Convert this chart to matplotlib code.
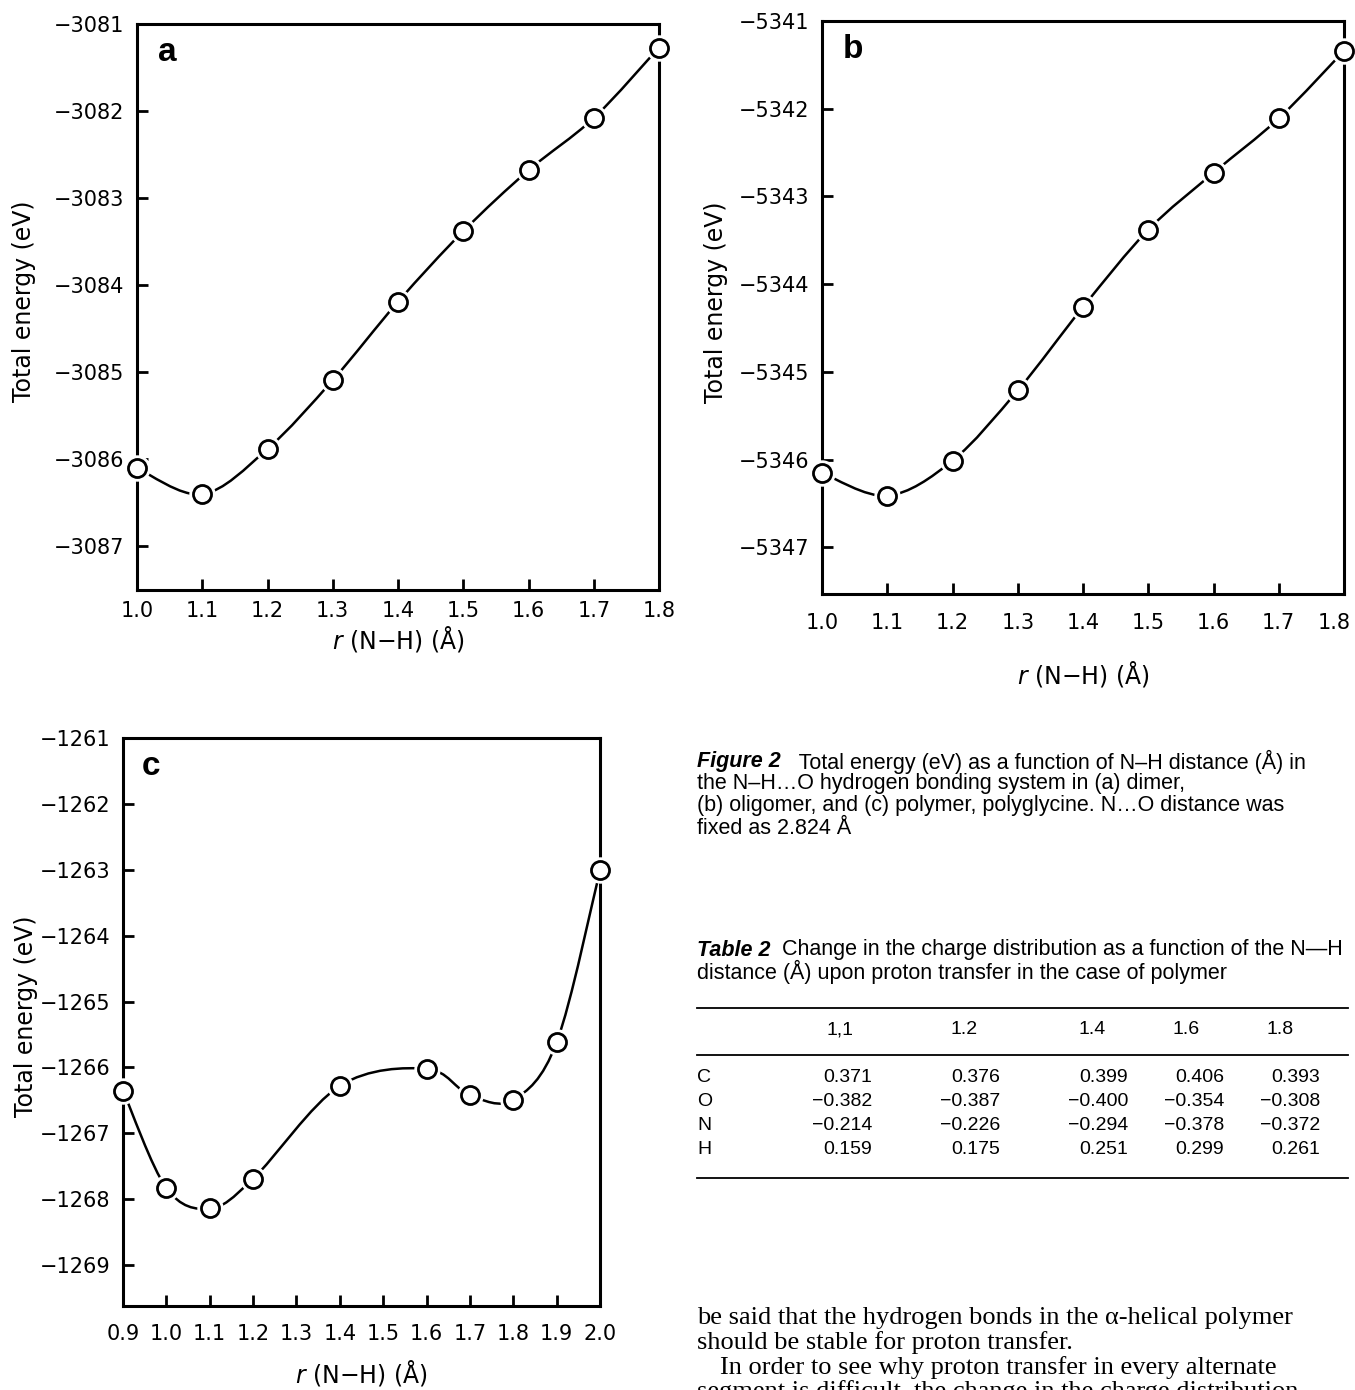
import numpy as np
import matplotlib
matplotlib.use("Agg")
import matplotlib.pyplot as plt
import matplotlib.transforms as mtransforms
from matplotlib.path import Path
from matplotlib.patches import PathPatch

# panel a: dimer
r_a = [1.0, 1.1, 1.2, 1.3, 1.4, 1.5, 1.6, 1.7, 1.8]
e_a = [-3086.10, -3086.40, -3085.88, -3085.09, -3084.19, -3083.38, -3082.68, -3082.08, -3081.27]
# panel b: oligomer
r_b = [1.0, 1.1, 1.2, 1.3, 1.4, 1.5, 1.6, 1.7, 1.8]
e_b = [-5346.15, -5346.41, -5346.01, -5345.21, -5344.26, -5343.38, -5342.73, -5342.11, -5341.34]
# panel c: polymer
r_c = [0.9, 1.0, 1.1, 1.2, 1.4, 1.6, 1.7, 1.8, 1.9, 2.0]
e_c = [-1266.35, -1267.83, -1268.14, -1267.69, -1266.28, -1266.02, -1266.42, -1266.49, -1265.62, -1263.01]

xticks_ab = [1.0, 1.1, 1.2, 1.3, 1.4, 1.5, 1.6, 1.7, 1.8]
xticks_c = [0.9, 1.0, 1.1, 1.2, 1.3, 1.4, 1.5, 1.6, 1.7, 1.8, 1.9, 2.0]
xlabels_ab = ["1.0", "1.1", "1.2", "1.3", "1.4", "1.5", "1.6", "1.7", "1.8"]
xlabels_c = ["0.9", "1.0", "1.1", "1.2", "1.3", "1.4", "1.5", "1.6", "1.7", "1.8", "1.9", "2.0"]
yticks_a = [-3087, -3086, -3085, -3084, -3083, -3082, -3081]
yticks_b = [-5347, -5346, -5345, -5344, -5343, -5342, -5341]
yticks_c = [-1269, -1268, -1267, -1266, -1265, -1264, -1263, -1262, -1261]

# Table 2
tab_cols = ["1,1", "1.2", "1.4", "1.6", "1.8"]
tab_rows = ["C", "O", "N", "H"]
tab_C = ["0.371", "0.376", "0.399", "0.406", "0.393"]
tab_O = ["\u22120.382", "\u22120.387", "\u22120.400", "\u22120.354", "\u22120.308"]
tab_N = ["\u22120.214", "\u22120.226", "\u22120.294", "\u22120.378", "\u22120.372"]
tab_H = ["0.159", "0.175", "0.251", "0.299", "0.261"]

W, H = 1355, 1390
fig = plt.figure(figsize=(W / 100, H / 100), dpi=100)
plt.rcParams['font.family'] = ['DejaVu Sans']


def smooth_path(x, y):
    # Catmull-Rom style bezier through the measured points
    pts = np.column_stack([x, y])
    verts = [pts[0]]
    codes = [Path.MOVETO]
    n = len(pts)
    for i in range(n - 1):
        p0 = pts[i - 1] if i > 0 else pts[i]
        p1, p2 = pts[i], pts[i + 1]
        p3 = pts[i + 2] if i + 2 < n else pts[i + 1]
        verts += [p1 + (p2 - p0) / 6, p2 - (p3 - p1) / 6, p2]
        codes += [Path.CURVE4] * 3
    return Path(verts, codes)


def panel(rect, x, y, xlim, ylim, xt, xl, yt, letter, ylab_x, xlab_y, xpad):
    ax = fig.add_axes(rect)
    ax.add_patch(PathPatch(smooth_path(x, y), fill=False, lw=1.8, color='black',
                           zorder=2, clip_on=False))
    ax.plot(x, y, 'o', ms=18, mfc='white', mec='white', zorder=3, clip_on=False)
    ax.plot(x, y, 'o', ms=13, mfc='white', mec='black', mew=2.0, zorder=4, clip_on=False)
    ax.set_xlim(*xlim)
    ax.set_ylim(*ylim)
    ax.set_xticks(xt)
    ax.set_xticklabels(xl)
    ax.set_yticks(yt)
    ax.set_yticklabels(["\u2212%d" % abs(v) for v in yt])
    for s in ax.spines.values():
        s.set_linewidth(2.2)
    ax.tick_params(direction='in', length=8, width=2, labelsize=15)
    ax.tick_params(axis='x', pad=xpad)
    ax.tick_params(axis='y', pad=9)
    ax.set_ylabel("Total energy (eV)", fontsize=17)
    ax.yaxis.set_label_coords(ylab_x, 0.51)
    ax.set_xlabel("$\\it{r}$ (N\u2212H) (\u00c5)", fontsize=17)
    ax.xaxis.set_label_coords(0.5, xlab_y)
    ax.text(0.04, 0.95, letter, transform=ax.transAxes, fontsize=24, fontweight='bold',
            family='Liberation Sans', ha='left', va='center')
    return ax


panel([137 / W, 1 - 590 / H, 522 / W, 566 / H], r_a, e_a, (1.0, 1.8), (-3087.5, -3081),
      xticks_ab, xlabels_ab, yticks_a, "a", -0.193, -0.060, 8)
ax_b = panel([822 / W, 1 - 594 / H, 522 / W, 573 / H], r_b, e_b, (1.0, 1.8), (-5347.53, -5341),
             xticks_ab, xlabels_ab, yticks_b, "b", -0.180, -0.113, 14)
panel([123 / W, 1 - 1306 / H, 477 / W, 568 / H], r_c, e_c, (0.9, 2.0), (-1269.62, -1261),
      xticks_c, xlabels_c, yticks_c, "c", -0.178, -0.092, 13)

# last tick label of b sits at the page edge, nudge it in
lab = ax_b.get_xticklabels()[-1]
lab.set_transform(lab.get_transform() + mtransforms.ScaledTranslation(-10 / 100, 0, fig.dpi_scale_trans))

# text area in pixel coordinates
tx = fig.add_axes([0, 0, 1, 1], zorder=-1)
tx.set_xlim(0, W)
tx.set_ylim(H, 0)
tx.axis('off')

sans = 'Liberation Sans'
cs = 15.5
cap = dict(family=sans, fontsize=cs, va='center', ha='left')
t = tx.text(697, 762, "Figure 2", fontstyle='italic', fontweight='bold', **cap)
tx.annotate("   Total energy (eV) as a function of N\u2013H distance (\u00c5) in", xy=(1, 0.5),
            xycoords=t, va='center', ha='left', family=sans, fontsize=cs)
tx.text(697, 784, "the N\u2013H\u2026O hydrogen bonding system in (a) dimer,", **cap)
tx.text(697, 806, "(b) oligomer, and (c) polymer, polyglycine. N\u2026O distance was", **cap)
tx.text(697, 828, "fixed as 2.824 \u00c5", **cap)

t = tx.text(697, 950, "Table 2", fontstyle='italic', fontweight='bold', **cap)
tx.annotate("  Change in the charge distribution as a function of the N\u2014H", xy=(1, 0.5),
            xycoords=t, va='center', ha='left', family=sans, fontsize=cs)
tx.text(697, 972, "distance (\u00c5) upon proton transfer in the case of polymer", **cap)

ts = 14
for yy in [1008, 1055, 1178]:
    tx.plot([697, 1348], [yy, yy], color='black', lw=1.3)
col_left = [826, 950, 1078, 1173, 1267]
col_right = [872, 1000, 1128, 1224, 1320]
for cx, lab in zip(col_left, tab_cols):
    tx.text(cx, 1030, lab, family=sans, fontsize=ts, va='center', ha='left')
for ry, rl, vals in zip([1078, 1102, 1126, 1150], tab_rows, [tab_C, tab_O, tab_N, tab_H]):
    tx.text(697, ry, rl, family=sans, fontsize=ts, va='center', ha='left')
    for cx, v in zip(col_right, vals):
        tx.text(cx, ry, v, family=sans, fontsize=ts, va='center', ha='right')

serif = dict(family='Liberation Serif', fontsize=19, va='center', ha='left')
tx.text(697, 1318, "be said that the hydrogen bonds in the \u03b1-helical polymer", **serif)
tx.text(697, 1343, "should be stable for proton transfer.", **serif)
tx.text(720, 1368, "In order to see why proton transfer in every alternate", **serif)
tx.text(697, 1392, "segment is difficult, the change in the charge distribution", **serif)

fig.savefig("out.png", dpi=100)
